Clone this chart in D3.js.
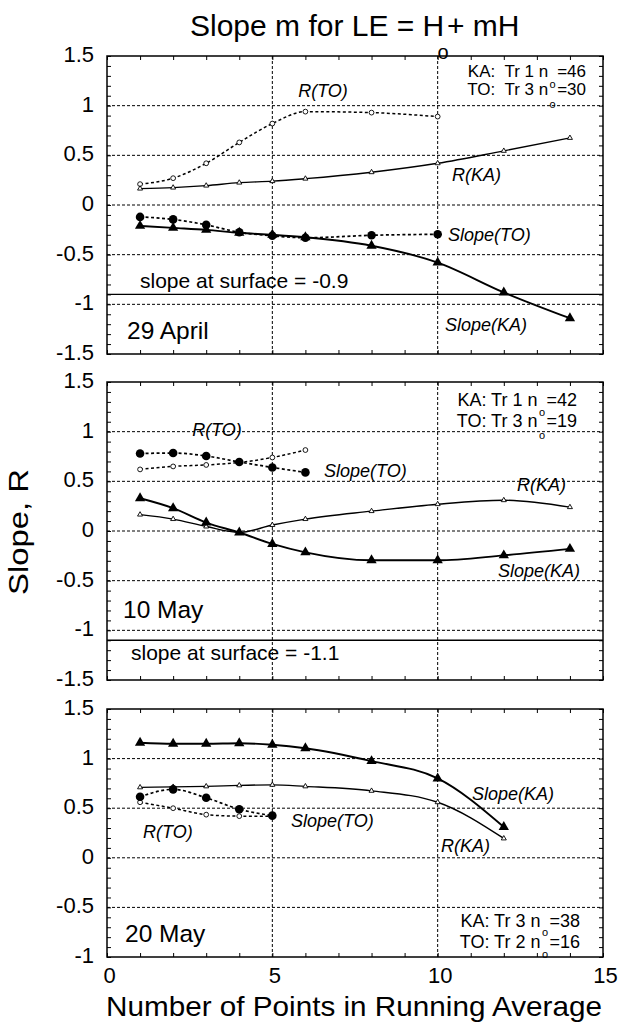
<!DOCTYPE html>
<html>
<head>
<meta charset="utf-8">
<script src="https://cdn.jsdelivr.net/npm/d3@7"></script>
<style>
  body { margin: 0; background: #fff; }
  svg { display: block; }
  text { font-family: "Liberation Sans", Arial, Helvetica, sans-serif; fill: #000; }
</style>
</head>
<body>
<svg id="chart" width="620" height="1026"></svg>
<script>
// ---- data: number of points in the running average ----
const kaPointsApr29 = [1, 2, 3, 4, 5, 6, 8, 10, 12, 14];
const toPointsApr29 = [1, 2, 3, 4, 5, 6, 8, 10];
const slopeKAApr29 = [-0.21, -0.23, -0.25, -0.28, -0.30, -0.325, -0.41, -0.58, -0.88, -1.14];
const rKAApr29     = [0.165, 0.175, 0.195, 0.225, 0.24, 0.265, 0.33, 0.42, 0.545, 0.675];
const slopeTOApr29 = [-0.12, -0.145, -0.2, -0.275, -0.31, -0.33, -0.305, -0.295];
const rTOApr29     = [0.21, 0.27, 0.42, 0.63, 0.82, 0.94, 0.93, 0.89];

const kaPointsMay10 = [1, 2, 3, 4, 5, 6, 8, 10, 12, 14];
const toPointsMay10 = [1, 2, 3, 4, 5, 6];
const slopeKAMay10 = [0.33, 0.23, 0.085, -0.015, -0.13, -0.215, -0.295, -0.295, -0.245, -0.18];
const rKAMay10     = [0.165, 0.12, 0.045, -0.015, 0.06, 0.12, 0.2, 0.27, 0.31, 0.24];
const slopeTOMay10 = [0.78, 0.785, 0.755, 0.695, 0.64, 0.59];
const rTOMay10     = [0.62, 0.65, 0.665, 0.69, 0.74, 0.815];

const kaPointsMay20 = [1, 2, 3, 4, 5, 6, 8, 10, 12];
const toPointsMay20 = [1, 2, 3, 4, 5];
const slopeKAMay20 = [1.16, 1.15, 1.15, 1.155, 1.14, 1.105, 0.975, 0.8, 0.31];
const rKAMay20     = [0.71, 0.715, 0.72, 0.73, 0.735, 0.72, 0.675, 0.56, 0.195];
const slopeTOMay20 = [0.615, 0.69, 0.605, 0.49, 0.425];
const rTOMay20     = [0.56, 0.50, 0.435, 0.42, 0.42];

const surfaceSlopes = [-0.9, -1.1, null];
const dates = ["29 April", "10 May", "20 May"];
const xTickLabels = [0, 5, 10, 15];

// ---- layout ----
const svg = d3.select("#chart");
const x = d3.scaleLinear().domain([0, 15]).range([107, 603]);

const panels = [
  { date: dates[0], domain: [-1.5, 1.5], top: 56, bottom: 354, surface: surfaceSlopes[0],
    ka: kaPointsApr29, to: toPointsApr29,
    slopeKA: slopeKAApr29, rKA: rKAApr29, slopeTO: slopeTOApr29, rTO: rTOApr29,
    dateXY: [127, 339], surfaceXY: [140, 287.5],
    labels: [
      { t: "R(TO)", x: 323, y: 97, a: "middle" },
      { t: "R(KA)", x: 452, y: 181, a: "start" },
      { t: "Slope(TO)", x: 448, y: 241, a: "start" },
      { t: "Slope(KA)", x: 445, y: 331, a: "start" }
    ],
    note: { lines: [["KA:  Tr 1 n", "=46"], ["TO:  Tr 3 n", "=30"]], right: 586, ys: [77, 95], size: 17,
            subY: [88, 108] } },
  { date: dates[1], domain: [-1.5, 1.5], top: 382, bottom: 680, surface: surfaceSlopes[1],
    ka: kaPointsMay10, to: toPointsMay10,
    slopeKA: slopeKAMay10, rKA: rKAMay10, slopeTO: slopeTOMay10, rTO: rTOMay10,
    dateXY: [123, 618], surfaceXY: [131, 660],
    labels: [
      { t: "R(TO)", x: 217, y: 436, a: "middle" },
      { t: "Slope(TO)", x: 324, y: 477, a: "start" },
      { t: "R(KA)", x: 517, y: 491, a: "start" },
      { t: "Slope(KA)", x: 498, y: 577, a: "start" }
    ],
    note: { lines: [["KA: Tr 1 n", "=42"], ["TO: Tr 3 n", "=19"]], right: 577, ys: [406, 427], size: 18,
            subY: [416, 439] } },
  { date: dates[2], domain: [-1, 1.5], top: 709, bottom: 957, surface: surfaceSlopes[2],
    ka: kaPointsMay20, to: toPointsMay20,
    slopeKA: slopeKAMay20, rKA: rKAMay20, slopeTO: slopeTOMay20, rTO: rTOMay20,
    dateXY: [125, 942], surfaceXY: null,
    labels: [
      { t: "Slope(KA)", x: 472, y: 800, a: "start" },
      { t: "R(KA)", x: 441, y: 852, a: "start" },
      { t: "Slope(TO)", x: 291, y: 827, a: "start" },
      { t: "R(TO)", x: 143, y: 838, a: "start" }
    ],
    note: { lines: [["KA: Tr 3 n", "=38"], ["TO: Tr 2 n", "=16"]], right: 580, ys: [927, 948], size: 18,
            subY: [936, 958] } }
];

const fmt = d => { const v = Math.round(d * 10) / 10; return (v === 0 ? 0 : v).toString(); };
const isHalf = d => Math.abs(d * 2 - Math.round(d * 2)) < 1e-6;

function styleAxis(g, size) {
  g.select(".domain").remove();
  g.selectAll(".tick line").attr("stroke", "#000").attr("stroke-width", 1);
  g.attr("font-family", null).attr("font-size", size);
}

panels.forEach((p, idx) => {
  const isLast = idx === panels.length - 1;
  const y = d3.scaleLinear().domain(p.domain).range([p.bottom, p.top]);
  const g = svg.append("g");

  // dotted grid at every 0.5 and at x = 5, 10
  const halves = d3.range(Math.round(p.domain[0] * 2), Math.round(p.domain[1] * 2) + 1).map(i => i / 2)
    .filter(v => v > p.domain[0] && v < p.domain[1]);
  g.selectAll(".hgrid").data(halves).join("line")
    .attr("x1", x(0)).attr("x2", x(15)).attr("y1", d => y(d)).attr("y2", d => y(d))
    .attr("stroke", "#000").attr("stroke-width", 1).attr("stroke-dasharray", "3,2");
  g.selectAll(".vgrid").data([5, 10]).join("line")
    .attr("x1", d => x(d)).attr("x2", d => x(d)).attr("y1", p.top).attr("y2", p.bottom)
    .attr("stroke", "#000").attr("stroke-width", 1).attr("stroke-dasharray", "3,2");

  // inward ticks on all four sides
  const tenths = d3.range(Math.round(p.domain[0] * 10), Math.round(p.domain[1] * 10) + 1).map(i => i / 10);
  g.append("g").attr("transform", `translate(${x(0)},0)`)
    .call(d3.axisLeft(y).tickValues(tenths).tickSize(-4).tickPadding(13).tickFormat(d => isHalf(d) ? fmt(d) : ""))
    .call(a => styleAxis(a, 22))
    .call(a => a.selectAll("text").attr("dy", "0.25em"));
  g.append("g").attr("transform", `translate(${x(15)},0)`)
    .call(d3.axisRight(y).tickValues(tenths).tickSize(-4).tickFormat(""))
    .call(a => styleAxis(a, 22));
  g.append("g").attr("transform", `translate(0,${p.top})`)
    .call(d3.axisTop(x).tickValues(d3.range(0, 16)).tickSize(-4).tickFormat(""))
    .call(a => styleAxis(a, 22));
  g.append("g").attr("transform", `translate(0,${p.bottom})`)
    .call(d3.axisBottom(x).tickValues(d3.range(0, 16)).tickSize(-4).tickPadding(10)
      .tickFormat(d => (isLast && xTickLabels.includes(d)) ? d : ""))
    .call(a => styleAxis(a, 22))
    .call(a => a.selectAll("text").attr("dx", 2));

  // frame
  g.append("rect").attr("x", x(0)).attr("y", p.top).attr("width", x(15) - x(0)).attr("height", p.bottom - p.top)
    .attr("fill", "none").attr("stroke", "#000").attr("stroke-width", 1.5);

  // slope measured at the surface
  if (p.surface !== null) {
    g.append("line").attr("x1", x(0)).attr("x2", x(15)).attr("y1", y(p.surface)).attr("y2", y(p.surface))
      .attr("stroke", "#000").attr("stroke-width", 1.3);
    g.append("text").attr("x", p.surfaceXY[0]).attr("y", p.surfaceXY[1]).attr("font-size", 21)
      .text(`slope at surface = ${p.surface}`);
  }

  // series lines
  const line = d3.line().x(d => x(d[0])).y(d => y(d[1])).curve(d3.curveMonotoneX);
  const pairs = (xs, ys) => xs.map((v, i) => [v, ys[i]]);
  const series = [
    { pts: pairs(p.to, p.rTO), dash: "3,2.5", w: 1.5 },
    { pts: pairs(p.ka, p.rKA), dash: null, w: 1.4 },
    { pts: pairs(p.to, p.slopeTO), dash: "3,2.5", w: 1.7 },
    { pts: pairs(p.ka, p.slopeKA), dash: null, w: 1.9 }
  ];
  series.forEach(s => {
    g.append("path").attr("d", line(s.pts)).attr("fill", "none").attr("stroke", "#000")
      .attr("stroke-width", s.w).attr("stroke-dasharray", s.dash);
  });

  // markers: open ones first, filled ones on top
  const triSmall = d3.symbol(d3.symbolTriangle, 11)();
  const triBig = d3.symbol(d3.symbolTriangle, 46)();
  g.selectAll(".rto").data(series[0].pts).join("circle")
    .attr("cx", d => x(d[0])).attr("cy", d => y(d[1])).attr("r", 2.4)
    .attr("fill", "#fff").attr("stroke", "#000").attr("stroke-width", 0.9);
  g.selectAll(".rka").data(series[1].pts).join("path").attr("d", triSmall)
    .attr("transform", d => `translate(${x(d[0])},${y(d[1])})`)
    .attr("fill", "#fff").attr("stroke", "#000").attr("stroke-width", 0.9);
  g.selectAll(".sto").data(series[2].pts).join("circle")
    .attr("cx", d => x(d[0])).attr("cy", d => y(d[1])).attr("r", 4.3).attr("fill", "#000");
  g.selectAll(".ska").data(series[3].pts).join("path").attr("d", triBig)
    .attr("transform", d => `translate(${x(d[0])},${y(d[1])})`).attr("fill", "#000");

  // series names
  p.labels.forEach(l => {
    g.append("text").attr("x", l.x).attr("y", l.y).attr("text-anchor", l.a)
      .attr("font-size", 18).attr("font-style", "italic").text(l.t);
  });

  // date
  g.append("text").attr("x", p.dateXY[0]).attr("y", p.dateXY[1]).attr("font-size", 24.5).text(p.date);

  // transect / sample-size note: "n" and "=NN" split so the subscript "o" sits in the gap
  const gap = 9;
  let gapX = p.note.right;
  p.note.lines.forEach((ln, i) => {
    const tail = g.append("text").attr("x", p.note.right).attr("y", p.note.ys[i]).attr("text-anchor", "end")
      .attr("font-size", p.note.size).text(ln[1]);
    const w = tail.node().getComputedTextLength();
    const startTail = p.note.right - w;
    gapX = startTail - gap / 2;
    g.append("text").attr("x", startTail - gap).attr("y", p.note.ys[i]).attr("text-anchor", "end")
      .attr("font-size", p.note.size).style("white-space", "pre").text(ln[0]);
  });
  p.note.subY.forEach(sy => {
    g.append("text").attr("x", gapX).attr("y", sy).attr("text-anchor", "middle").attr("font-size", 11).text("o");
  });
});

// titles
svg.append("text").attr("x", 190).attr("y", 36).attr("font-size", 30).text("Slope m for LE = H");
svg.append("text").attr("x", 443).attr("y", 59).attr("text-anchor", "middle").attr("font-size", 20).text("o");
svg.append("text").attr("x", 447).attr("y", 36).attr("font-size", 30).style("white-space", "pre").text("+ mH");

svg.append("text").attr("transform", "translate(28,532) rotate(-90)").attr("text-anchor", "middle")
  .attr("font-size", 28).attr("textLength", 126).attr("lengthAdjust", "spacingAndGlyphs").text("Slope, R");

svg.append("text").attr("x", 354).attr("y", 1016).attr("text-anchor", "middle")
  .attr("font-size", 28).attr("textLength", 496).attr("lengthAdjust", "spacingAndGlyphs")
  .text("Number of Points in Running Average");
</script>
</body>
</html>
